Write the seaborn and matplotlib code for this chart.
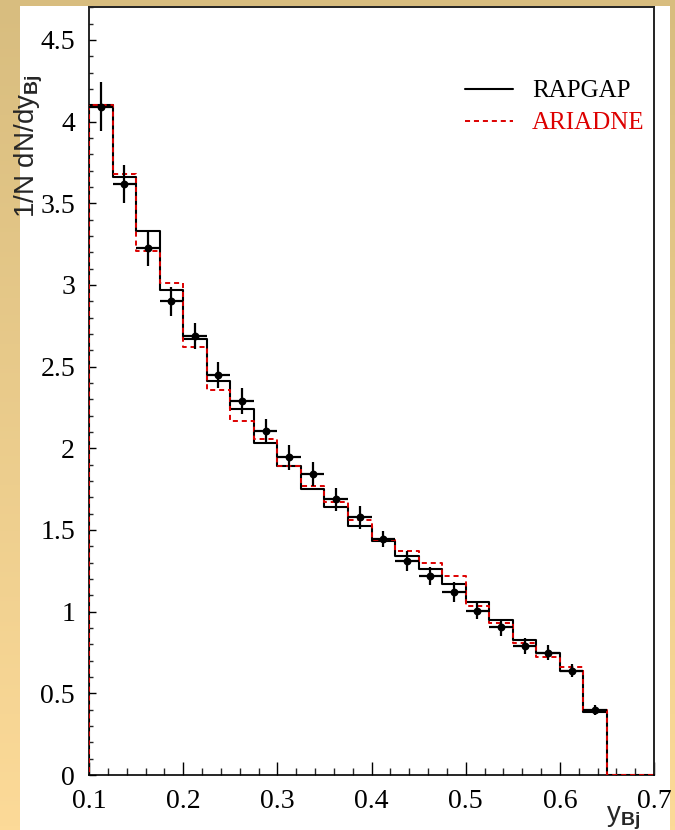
import numpy as np
import pandas as pd
import matplotlib
matplotlib.use("Agg")
import matplotlib.pyplot as plt
from matplotlib.lines import Line2D
from matplotlib.patches import Rectangle
from matplotlib.ticker import MultipleLocator, FixedLocator, FixedFormatter
import seaborn as sns

# ---------------- data ----------------
bin_edges = [0.075, 0.1, 0.125, 0.15, 0.175, 0.2, 0.225, 0.25, 0.275, 0.3, 0.325,
             0.35, 0.375, 0.4, 0.425, 0.45, 0.475, 0.5, 0.525, 0.55, 0.575,
             0.6, 0.625, 0.65, 0.675, 0.7]
filled_lo = [0.1, 0.125, 0.15, 0.175, 0.2, 0.225, 0.25, 0.275, 0.3, 0.325,
             0.35, 0.375, 0.4, 0.425, 0.45, 0.475, 0.5, 0.525, 0.55, 0.575,
             0.6, 0.625]
bin_width = 0.025

rapgap = [4.10, 3.66, 3.33, 2.97, 2.67, 2.41, 2.24, 2.03, 1.89, 1.75, 1.643,
          1.525, 1.435, 1.343, 1.26, 1.17, 1.061, 0.952, 0.827, 0.745, 0.637, 0.388]
ariadne = [4.10, 3.68, 3.21, 3.01, 2.62, 2.36, 2.17, 2.06, 1.89, 1.77, 1.67,
           1.56, 1.44, 1.37, 1.295, 1.218, 1.037, 0.928, 0.81, 0.725, 0.659, 0.40]
data_y = [4.09, 3.62, 3.225, 2.90, 2.69, 2.45, 2.29, 2.105, 1.945, 1.843, 1.688,
          1.578, 1.445, 1.312, 1.22, 1.122, 1.006, 0.904, 0.79, 0.749, 0.637, 0.398]
data_err = [0.15, 0.115, 0.11, 0.09, 0.08, 0.08, 0.08, 0.077, 0.077, 0.073, 0.07,
            0.07, 0.05, 0.062, 0.056, 0.06, 0.053, 0.05, 0.048, 0.046, 0.04, 0.03]

xtick_vals = [0.1, 0.2, 0.3, 0.4, 0.5, 0.6, 0.7]
xtick_labels = ["0.1", "0.2", "0.3", "0.4", "0.5", "0.6", "0.7"]
ytick_vals = [0, 0.5, 1, 1.5, 2, 2.5, 3, 3.5, 4, 4.5]
ytick_labels = ["0", "0.5", "1", "1.5", "2", "2.5", "3", "3.5", "4", "4.5"]
series_labels = ["RAPGAP", "ARIADNE"]

centers = [lo + bin_width / 2 for lo in filled_lo]
df = pd.DataFrame({"y": centers, "rapgap": rapgap, "ariadne": ariadne,
                   "data": data_y, "err": data_err})

# ---------------- style ----------------
sns.set_theme(style="ticks")
plt.rcParams["font.family"] = ["Liberation Serif", "DejaVu Serif"]
plt.rcParams["mathtext.fontset"] = "custom"
plt.rcParams["mathtext.rm"] = "Liberation Sans"
plt.rcParams["mathtext.it"] = "Liberation Sans:italic"
plt.rcParams["mathtext.bf"] = "Liberation Sans:bold"

RED = "#DD0000"
W, H = 675, 830
fig = plt.figure(figsize=(W / 100, H / 100), dpi=100)

# background gradient
ax_bg = fig.add_axes([0, 0, 1, 1], zorder=-10)
top_c = np.array([216, 189, 127]) / 255
bot_c = np.array([252, 218, 152]) / 255
t = np.linspace(0, 1, 200)[:, None, None]
grad = top_c[None, None, :] * (1 - t) + bot_c[None, None, :] * t
ax_bg.imshow(grad, aspect="auto", extent=[0, 1, 0, 1])
ax_bg.set_axis_off()

# white panel
fig.patches.append(Rectangle((20 / W, 0), 650 / W, 824 / H, transform=fig.transFigure,
                             facecolor="white", edgecolor="none", zorder=-5))

ax = fig.add_axes([89 / W, 55 / H, (654 - 89) / W, (775 - 7) / H])
ax.set_facecolor("white")

dash = (0, (2.6, 2.0))
sns.histplot(data=df, x="y", weights="rapgap", bins=bin_edges, element="step",
             fill=False, color="black", linewidth=1.5, ax=ax, zorder=3)
sns.histplot(data=df, x="y", weights="ariadne", bins=bin_edges, element="step",
             fill=False, color=RED, linewidth=1.4, linestyle=dash, ax=ax, zorder=4)
ax.errorbar(df["y"], df["data"], yerr=df["err"], xerr=bin_width / 2, fmt="none",
            ecolor="black", elinewidth=1.6, capsize=0, zorder=5)
sns.scatterplot(data=df, x="y", y="data", color="black", s=32, edgecolor="black",
                linewidth=0, ax=ax, zorder=6, legend=False)

ax.set_xlim(0.1, 0.7)
ax.set_ylim(0, 4.702)
ax.set_xlabel("")
ax.set_ylabel("")

ax.xaxis.set_major_locator(FixedLocator(xtick_vals))
ax.xaxis.set_major_formatter(FixedFormatter(xtick_labels))
ax.yaxis.set_major_locator(FixedLocator(ytick_vals))
ax.yaxis.set_major_formatter(FixedFormatter(ytick_labels))
ax.xaxis.set_minor_locator(MultipleLocator(0.02))
ax.yaxis.set_minor_locator(MultipleLocator(0.1))

ax.tick_params(axis="x", which="major", direction="in", length=9.4, width=1.0,
               pad=10, labelsize=20, colors="black", top=False)
ax.tick_params(axis="x", which="minor", direction="in", length=5, width=1.0, top=False)
ax.tick_params(axis="y", which="major", direction="in", length=5, width=1.0,
               pad=10, labelsize=20, colors="black", right=False)
ax.tick_params(axis="y", which="minor", direction="in", length=2.6, width=1.0, right=False)

for s in ["left", "bottom"]:
    ax.spines[s].set_color("black")
    ax.spines[s].set_linewidth(1.2)
for s in ["top", "right"]:
    ax.spines[s].set_visible(True)
    ax.spines[s].set_color("#222222")
    ax.spines[s].set_linewidth(1.4)

handles = [Line2D([], [], color="black", lw=1.5),
           Line2D([], [], color=RED, lw=1.4, linestyle=dash)]
leg = ax.legend(handles=handles, labels=series_labels, loc="upper left",
                bbox_to_anchor=((465 - 89) / (654 - 89), (775 - 80) / 768),
                frameon=False, fontsize=18, handlelength=1.9, handletextpad=0.78,
                labelspacing=0.38, borderpad=0, borderaxespad=0,
                labelcolor=["black", RED])

fig.text(29 / W, (H - 74) / H, r"1/N dN/dy$_{\mathbf{Bj}}$", rotation=90,
         ha="center", va="top", fontsize=20, family=["Liberation Sans", "DejaVu Sans"])
fig.text(606 / W, (H - 821) / H, r"y$_{\mathbf{Bj}}$", ha="left", va="baseline",
         fontsize=20, family=["Liberation Sans", "DejaVu Sans"])

fig.savefig("out.png", dpi=100)
